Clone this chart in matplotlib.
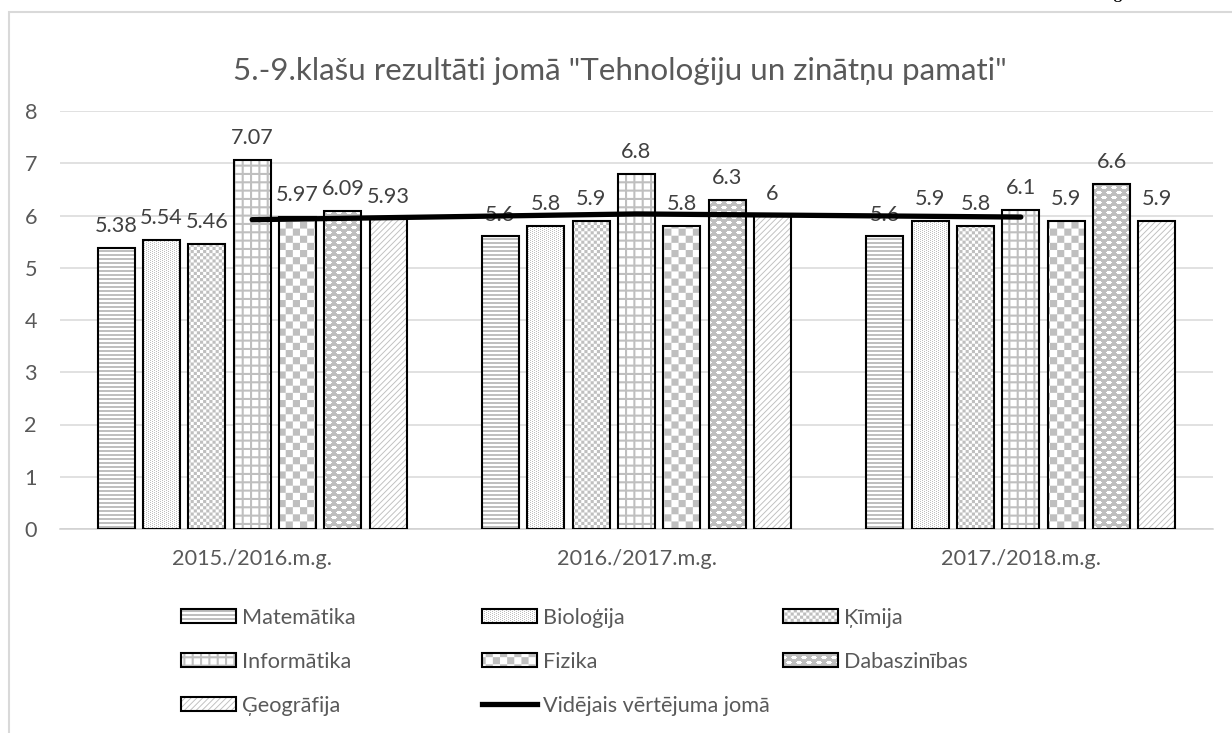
import matplotlib
matplotlib.use("Agg")
import matplotlib.pyplot as plt
import matplotlib.hatch as mhatch
from matplotlib.path import Path
from matplotlib.patches import Patch, Rectangle
from matplotlib.lines import Line2D
import numpy as np

# ---------------- data ----------------
years = ["2015./2016.m.g.", "2016./2017.m.g.", "2017./2018.m.g."]
subjects = ["Matemātika", "Bioloģija", "Ķīmija", "Informātika",
            "Fizika", "Dabaszinības", "Ģeogrāfija"]
matematika = [5.38, 5.6, 5.6]
biologija = [5.54, 5.8, 5.9]
kimija = [5.46, 5.9, 5.8]
informatika = [7.07, 6.8, 6.1]
fizika = [5.97, 5.8, 5.9]
dabaszinibas = [6.09, 6.3, 6.6]
geografija = [5.93, 6.0, 5.9]
videjais = [5.92, 6.03, 5.97]
avg_label = "Vidējais vērtējuma jomā"
title_text = '5.-9.klašu rezultāti jomā "Tehnoloģiju un zinātņu pamati"'
yticks = [0, 1, 2, 3, 4, 5, 6, 7, 8]
series = [matematika, biologija, kimija, informatika, fizika, dabaszinibas, geografija]

# ---------------- custom pattern fills (hatches) ----------------
plt.rcParams['hatch.linewidth'] = 0.0


def motif_polys(motif, reps_x, reps_y):
    rows = len(motif)
    cols = len(motif[0])
    cw = 1.0 / (reps_x * cols)
    ch = 1.0 / (reps_y * rows)
    polys = []
    for rx in range(reps_x):
        for ry in range(reps_y):
            for r in range(rows):
                for c in range(cols):
                    if motif[r][c] == '#':
                        x0 = (rx * cols + c) * cw
                        y0 = (ry * rows + r) * ch
                        polys.append([(x0, y0), (x0 + cw, y0),
                                      (x0 + cw, y0 + ch), (x0, y0 + ch)])
    return polys


def diag_polys(n, w):
    polys = []
    for k in range(-n, n + 1):
        x0 = k / n
        polys.append([(x0, 0), (x0 + w, 0), (x0 + w + 1, 1), (x0 + 1, 1)])
    return polys


PATTERNS = {
    'a': motif_polys(["#", "#", ".", "."], 1, 25),                      # horizontal stripes
    'b': motif_polys(["#...", "..#."], 25, 50),                         # fine dots
    'c': motif_polys(["#.", ".#"], 16, 16),                             # small checker
    'd': motif_polys(["####", "#...", "#...", "#..."], 12, 12),         # grid
    'e': motif_polys(["#.", ".#"], 7, 7),                               # large checker
    'f': motif_polys(["##########",
                      "##....####",
                      "#......###",
                      "##....####",
                      "##########",
                      "##########",
                      ".######...",
                      "..####....",
                      ".######...",
                      "##########"], 10, 10),                           # dots on gray
    'g': diag_polys(17, 0.013),                                         # diagonal lines
}


class PolyHatch(mhatch.HatchPatternBase):
    def __init__(self, hatch, density):
        self.polys = []
        for key, polys in PATTERNS.items():
            if key in hatch:
                self.polys += polys
        self.num_vertices = 5 * len(self.polys)
        self.filled = True

    def set_vertices_and_codes(self, vertices, codes):
        for i, p in enumerate(self.polys):
            vertices[5 * i:5 * i + 4] = p
            vertices[5 * i + 4] = p[0]
            codes[5 * i] = Path.MOVETO
            codes[5 * i + 1:5 * i + 4] = Path.LINETO
            codes[5 * i + 4] = Path.CLOSEPOLY


mhatch._hatch_types.append(PolyHatch)

hatches = ['a', 'b', 'c', 'd', 'e', 'f', 'g']
hatch_gray = '#BFBFBF'

# ---------------- figure ----------------
W, H = 1232, 733
fig = plt.figure(figsize=(W / 100, H / 100), dpi=100)
fam = ['Lato', 'DejaVu Sans']
txt_gray = '#595959'

renderer = fig.canvas.get_renderer()


def fit_size(s, target):
    t = fig.text(0, 0, s, fontsize=10, family=fam)
    w = t.get_window_extent(renderer=renderer).width
    t.remove()
    return 10 * target / w


base = fit_size(years[0], 160)
tsize = fit_size(title_text, 774)

ax = fig.add_axes([60 / W, (H - 529) / H, 1153 / W, 418 / H])
x = np.arange(len(years))
pitch = 0.118
bw = 0.0963

for i, (vals, h) in enumerate(zip(series, hatches)):
    xs = x + (i - 3) * pitch
    ax.bar(xs, vals, bw, color='white', edgecolor=hatch_gray, linewidth=0,
           hatch=h, zorder=2)
    outl = ax.bar(xs, vals, bw, fill=False, edgecolor='black', linewidth=1.5,
                  zorder=3)
    labs = ax.bar_label(outl, labels=[f"{v:g}" for v in vals], padding=8.5,
                        fontsize=base, color='#404040', family=fam)
    for l in labs:
        l.set_zorder(4)

ax.plot(x, videjais, color='black', lw=3.8, solid_capstyle='round', zorder=5)

ax.set_xlim(-0.5, 2.5)
ax.set_ylim(0, 8)
ax.set_yticks(yticks)
ax.set_xticks(x)
ax.set_xticklabels(years)
ax.tick_params(axis='both', length=0, labelsize=base, labelcolor=txt_gray)
ax.tick_params(axis='x', pad=14.5)
ax.tick_params(axis='y', pad=16.5)
for lab in ax.get_xticklabels() + ax.get_yticklabels():
    lab.set_family(fam)
ax.grid(axis='y', color='#D9D9D9', lw=1.1, zorder=0)
ax.set_axisbelow(True)
for s in ['left', 'right', 'top']:
    ax.spines[s].set_visible(False)
ax.spines['bottom'].set_color('#D0D0D0')
ax.spines['bottom'].set_linewidth(1.1)

fig.text(620 / W, 1 - 71 / H, title_text, ha='center', va='center',
         fontsize=tsize, color=txt_gray, family=fam)

# ---------------- legend ----------------
def ph(h):
    return (Patch(facecolor='white', edgecolor=hatch_gray, lw=0, hatch=h),
            Patch(facecolor='none', edgecolor='black', lw=1.5))

handles = {s: ph(h) for s, h in zip(subjects, hatches)}
avg_handle = Line2D([], [], color='black', lw=3.8)

cols = [
    ([handles[subjects[0]], handles[subjects[3]], handles[subjects[6]]],
     [subjects[0], subjects[3], subjects[6]], 181),
    ([handles[subjects[1]], handles[subjects[4]], avg_handle],
     [subjects[1], subjects[4], avg_label], 482),
    ([handles[subjects[2]], handles[subjects[5]]],
     [subjects[2], subjects[5]], 783),
]
for hs, ls, xpx in cols:
    fig.legend(hs, ls, loc='upper left', bbox_to_anchor=(xpx / W, 1 - 608 / H),
               bbox_transform=fig.transFigure, frameon=False, borderpad=0,
               borderaxespad=0, handlelength=2.55, handleheight=0.63,
               handletextpad=0.25, labelspacing=1.1,
               prop={'family': fam, 'size': base}, labelcolor=txt_gray)

# chart border
fig.add_artist(Rectangle((8.5 / W, -0.2), 1.5, 1.2 - 12 / H,
                         transform=fig.transFigure, fill=False,
                         edgecolor='#D9D9D9', lw=1.5, clip_on=False))
# page number (cut off at top, as in the source page)
fig.text(1117 / W, 1 - 2 / H, '8', ha='center', va='baseline', fontsize=14,
         color='black', family='Liberation Serif')

fig.savefig('out.png', dpi=100)
